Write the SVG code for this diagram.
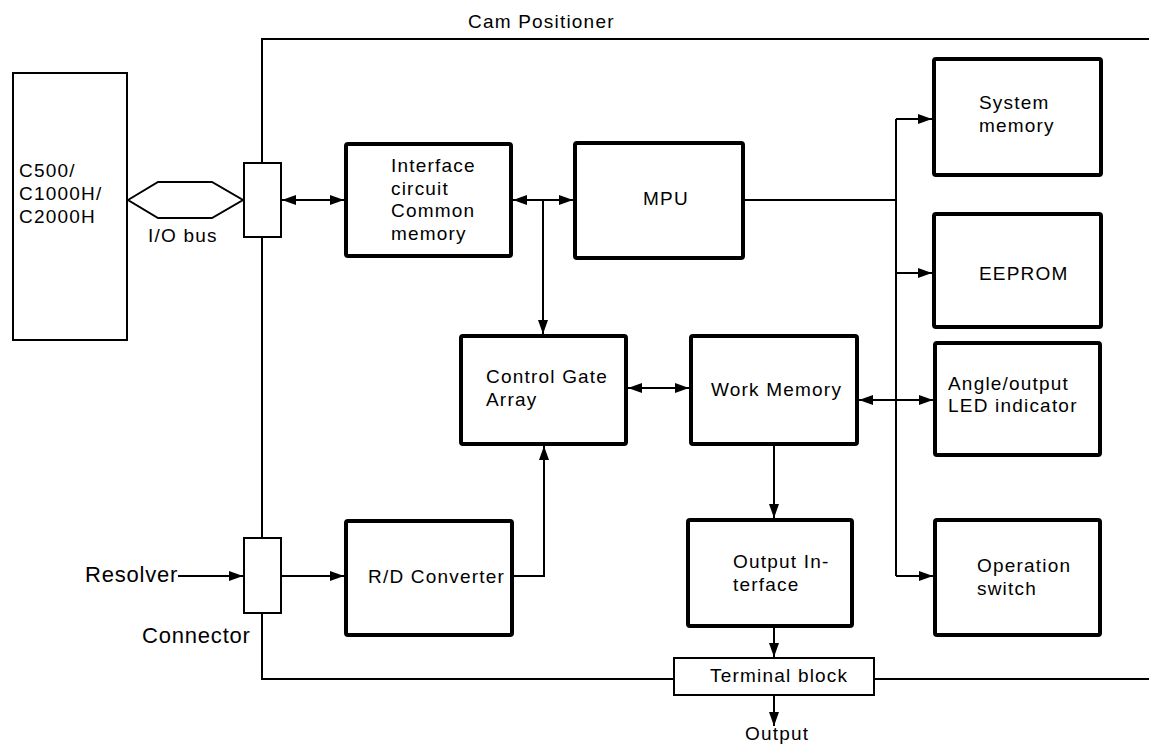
<svg xmlns="http://www.w3.org/2000/svg" width="1149" height="746" viewBox="0 0 1149 746">
<style>
text{font-family:"Liberation Sans",Arial,sans-serif;font-size:19px;letter-spacing:1.2px;fill:#000}
.big{font-size:22px;letter-spacing:0.8px}
.thick{fill:#fff;stroke:#000;stroke-width:4}
.thin{fill:#fff;stroke:#000;stroke-width:2}
.ln{fill:none;stroke:#000;stroke-width:2}
</style>
<defs>
<marker id="ah" markerUnits="userSpaceOnUse" markerWidth="14" markerHeight="10" refX="14" refY="5" orient="auto-start-reverse">
<path d="M0,0 L14,5 L0,10 z" fill="#000"/>
</marker>
</defs>
<rect width="1149" height="746" fill="#fff"/>
<g id="frame">
<path class="ln" d="M1149,39 H262 V679 H1149"/>
<text x="468" y="28">Cam Positioner</text>
</g>
<g id="connectors">
<path class="ln" d="M282,200 H344" marker-start="url(#ah)" marker-end="url(#ah)"/>
<path class="ln" d="M513,200 H573" marker-start="url(#ah)" marker-end="url(#ah)"/>
<path class="ln" d="M543,200 V334" marker-end="url(#ah)"/>
<path class="ln" d="M628,388 H689" marker-start="url(#ah)" marker-end="url(#ah)"/>
<path class="ln" d="M745,200 H896"/>
<path class="ln" d="M896,119 V576"/>
<path class="ln" d="M896,119 H932" marker-end="url(#ah)"/>
<path class="ln" d="M896,273 H932" marker-end="url(#ah)"/>
<path class="ln" d="M896,576 H933" marker-end="url(#ah)"/>
<path class="ln" d="M859,400 H933" marker-start="url(#ah)" marker-end="url(#ah)"/>
<path class="ln" d="M774,446 V518" marker-end="url(#ah)"/>
<path class="ln" d="M774,628 V657" marker-end="url(#ah)"/>
<path class="ln" d="M774,696 V726" marker-end="url(#ah)"/>
<path class="ln" d="M178,576 H243" marker-end="url(#ah)"/>
<path class="ln" d="M282,576 H344" marker-end="url(#ah)"/>
<path class="ln" d="M514,576 H544 V446" marker-end="url(#ah)"/>
</g>
<g id="plc">
<rect class="thin" x="13" y="73" width="114" height="267"/>
<text x="19" y="177">C500/</text>
<text x="19" y="200">C1000H/</text>
<text x="19" y="223">C2000H</text>
</g>
<g id="iobus">
<polygon class="thin" points="128,200 158,182 212,182 243,200 212,218 158,218"/>
<text x="148" y="242">I/O bus</text>
</g>
<g id="connector-top">
<rect class="thin" x="244" y="163" width="37" height="74"/>
</g>
<g id="connector-bottom">
<rect class="thin" x="244" y="538" width="37" height="75"/>
<text class="big" x="142" y="643">Connector</text>
</g>
<g id="resolver">
<text class="big" x="85" y="582">Resolver</text>
</g>
<g id="interface">
<rect class="thick" x="346" y="144" width="165" height="112" rx="2"/>
<text x="391" y="172">Interface</text>
<text x="391" y="195">circuit</text>
<text x="391" y="217">Common</text>
<text x="391" y="240">memory</text>
</g>
<g id="mpu">
<rect class="thick" x="575" y="143" width="168" height="115" rx="2"/>
<text x="643" y="205">MPU</text>
</g>
<g id="cga">
<rect class="thick" x="461" y="336" width="165" height="108" rx="2"/>
<text x="486" y="383">Control Gate</text>
<text x="486" y="406">Array</text>
</g>
<g id="workmem">
<rect class="thick" x="691" y="336" width="166" height="108" rx="2"/>
<text x="711" y="396">Work Memory</text>
</g>
<g id="sysmem">
<rect class="thick" x="934" y="59" width="167" height="116" rx="2"/>
<text x="979" y="109">System</text>
<text x="979" y="132">memory</text>
</g>
<g id="eeprom">
<rect class="thick" x="934" y="214" width="167" height="113" rx="2"/>
<text x="979" y="280">EEPROM</text>
</g>
<g id="led">
<rect class="thick" x="935" y="343" width="165" height="112" rx="2"/>
<text x="948" y="390">Angle/output</text>
<text x="948" y="412">LED indicator</text>
</g>
<g id="opswitch">
<rect class="thick" x="935" y="520" width="165" height="115" rx="2"/>
<text x="977" y="572">Operation</text>
<text x="977" y="595">switch</text>
</g>
<g id="rdconv">
<rect class="thick" x="346" y="521" width="166" height="114" rx="2"/>
<text x="368" y="583">R/D Converter</text>
</g>
<g id="outif">
<rect class="thick" x="688" y="520" width="164" height="106" rx="2"/>
<text x="733" y="568">Output In-</text>
<text x="733" y="591">terface</text>
</g>
<g id="terminal">
<rect class="thin" x="674" y="658" width="200" height="37"/>
<text x="710" y="682">Terminal block</text>
</g>
<g id="output">
<text x="745" y="740">Output</text>
</g>
</svg>
